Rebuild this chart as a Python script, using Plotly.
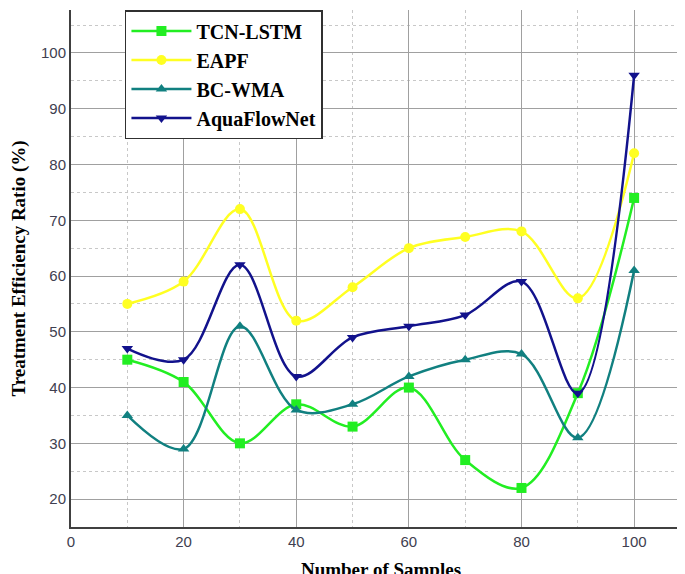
import plotly.graph_objects as go

samples = [10, 20, 30, 40, 50, 60, 70, 80, 90, 100]
tcn_lstm = [45, 41, 30, 37, 33, 40, 27, 22, 39, 74]
eapf = [55, 59, 72, 52, 58, 65, 67, 68, 56, 82]
bc_wma = [35, 29, 51, 36, 37, 42, 45, 46, 31, 61]
aquaflownet = [47, 45, 62, 42, 49, 51, 53, 59, 39, 96]

series = [
    ("TCN-LSTM", tcn_lstm, "#22ee22", "square"),
    ("EAPF", eapf, "#ffff22", "circle"),
    ("BC-WMA", bc_wma, "#118080", "triangle-up"),
    ("AquaFlowNet", aquaflownet, "#12128c", "triangle-down"),
]

fig = go.Figure()
for name, vals, col, sym in series:
    fig.add_trace(go.Scatter(
        x=samples, y=vals, name="<b>" + name + "</b>", mode="lines+markers",
        line=dict(color=col, width=2.5, shape="spline", smoothing=1.0),
        marker=dict(symbol=sym, size=10, color=col),
    ))

grid_major = "#a0a0a0"
fig.update_layout(
    width=685, height=574,
    paper_bgcolor="white", plot_bgcolor="white",
    margin=dict(l=63, r=2, t=2, b=55, autoexpand=False),
    font=dict(family="Liberation Sans, Arial", color="#404050", size=15),
    legend=dict(
        x=0.087, y=1.0, xanchor="left", yanchor="top",
        bgcolor="white", bordercolor="#303030", borderwidth=1.5,
        font=dict(family="Liberation Serif, Times New Roman", size=20, color="black"),
        itemwidth=60, tracegroupgap=2,
    ),
    xaxis=dict(
        range=[0, 110.1], tickvals=[0, 20, 40, 60, 80, 100],
        showgrid=True, gridcolor=grid_major, gridwidth=1.2,
        minor=dict(tickvals=[10, 30, 50, 70, 90, 110], showgrid=True, gridcolor="#c8c8c8", griddash="dot", gridwidth=1),
        showline=True, linecolor="#404040", linewidth=2,
        zeroline=False, ticks="", automargin=False,
        title=dict(text="<b>Number of Samples</b>", font=dict(family="Liberation Serif, Times New Roman", size=19, color="black"), standoff=14),
    ),
    yaxis=dict(
        range=[15.0, 107.7], tickvals=[20, 30, 40, 50, 60, 70, 80, 90, 100],
        showgrid=True, gridcolor=grid_major, gridwidth=1.2,
        minor=dict(tickvals=[25, 35, 45, 55, 65, 75, 85, 95, 105], showgrid=True, gridcolor="#c8c8c8", griddash="dot", gridwidth=1),
        showline=True, linecolor="#404040", linewidth=2,
        zeroline=False, ticks="", automargin=False,
        title=dict(text="<b>Treatment Efficiency Ratio (%)</b>", font=dict(family="Liberation Serif, Times New Roman", size=19, color="black"), standoff=10),
    ),
)
fig.write_html("out.html")
